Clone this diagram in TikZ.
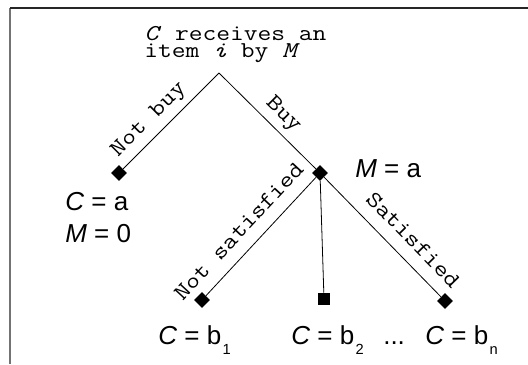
\documentclass[tikz,border=0pt]{standalone}
\usepackage{fontspec}
\setmainfont{Liberation Sans}
\setmonofont{Latin Modern Mono}[FakeStretch=1.18]
\usetikzlibrary{shapes.geometric}

\newcommand\lowsub[1]{\kern1pt\raisebox{-7.5pt}{\fontsize{11}{11}\selectfont #1}}

\begin{document}
\begin{tikzpicture}[
  x=0.75pt,
  y=-0.75pt,
  frame/.style={line width=1.1pt},
  edge/.style={draw=black,line width=0.6pt},
  dia/.style={diamond,fill=black,inner sep=0pt,minimum size=12pt},
  sq/.style={rectangle,fill=black,inner sep=0pt,minimum size=9pt},
  elab/.style={font=\ttfamily\fontsize{17}{17}\selectfont,sloped,inner sep=0pt,text depth=0pt},
  qtext/.style={font=\ttfamily\fontsize{17}{12.75}\selectfont,align=left,inner sep=0pt},
  val/.style={font=\fontsize{19.5}{24}\selectfont,inner sep=0pt}
]
\useasboundingbox (0,0) rectangle (528,364);
\draw[frame,black!55] (10,364) -- (10,8);
\draw[frame,black!85] (10,8) -- (528,8);

\node[qtext,anchor=base west] (q) at (144,57)
  {\textit{C} receives an\\item \textit{i} by \textit{M}};
\coordinate (root) at (219,73);

\node[dia] (nobuy) at (119,173) {};
\node[dia] (buy) at (320,173) {};
\node[dia] (unsat) at (202,300) {};
\node[sq] (mid) at (324,299) {};
\node[dia] (sat) at (445,301) {};

\draw[edge] (nobuy) -- (root) node[elab,pos=0.39,above=8.5pt] {Not buy};
\draw[edge] (root) -- (buy) node[elab,pos=0.55,above=8pt] {Buy};
\draw[edge] (unsat) -- (buy) node[elab,pos=0.43,above=9.5pt] {Not satisfied};
\draw[edge] (buy) -- (mid);
\draw[edge] (buy) -- (sat) node[elab,pos=0.64,above=9.5pt] {Satisfied};

\node[val,anchor=base west] (ma) at (355,177) {\textit{M} = a};
\node[val,anchor=base west,align=left] (ca) at (65,242)
  {\textit{C} = a\\\textit{M} = 0};
\node[val,anchor=base west] (cb1) at (158,344) {\textit{C} = b\lowsub{1}};
\node[val,anchor=base west] (cb2) at (291,344) {\textit{C} = b\lowsub{2}};
\node[val,anchor=base west] (dots) at (383,344) {...};
\node[val,anchor=base west] (cbn) at (425,344) {\textit{C} = b\lowsub{n}};
\end{tikzpicture}
\end{document}
